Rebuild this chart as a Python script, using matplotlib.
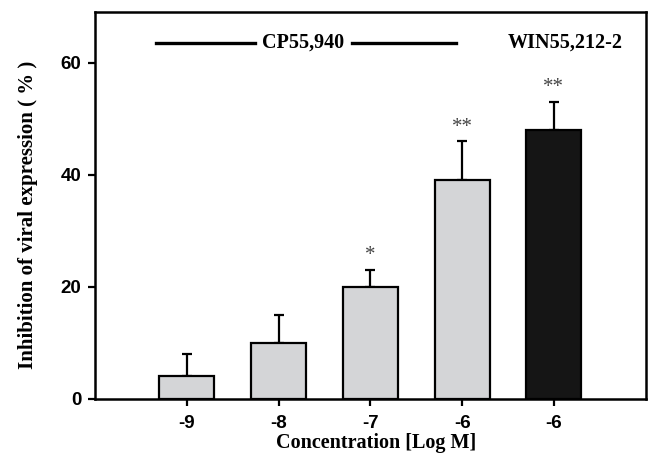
import numpy as np
import matplotlib.pyplot as plt

# valeurs
tick_labels = ["-9", "-8", "-7", "-6", "-6"]
inhibition = [4, 10, 20, 39, 48]
sem = [4, 5, 3, 7, 5]
stars = ["", "", "*", "**", "**"]
bar_colors = ["#d4d5d7", "#d4d5d7", "#d4d5d7", "#d4d5d7", "#151515"]

x = np.arange(len(inhibition))

fig = plt.figure(figsize=(6.48, 4.61), dpi=100)
ax = fig.add_axes([0.1466, 0.1351, 0.8499, 0.8382])

ax.bar(x, inhibition, width=0.6, color=bar_colors, edgecolor="black", linewidth=1.6, zorder=2)
ax.errorbar(x, inhibition, yerr=[np.zeros(len(sem)), sem], fmt="none", ecolor="black",
            elinewidth=1.6, capsize=3.5, capthick=1.6, zorder=1)

# étoiles de significativité
for xi, yi, e, s in zip(x, inhibition, sem, stars):
    if s:
        ax.text(xi, yi + e + 0.8, s, ha="center", va="bottom", fontsize=15,
                family="Liberation Serif", color="#444444")

# légende des composés
ax.plot([-0.33, 0.74], [63.6, 63.6], color="black", lw=2.4)
ax.plot([1.80, 2.93], [63.6, 63.6], color="black", lw=2.4)
ax.text(1.27, 63.6, "CP55,940", ha="center", va="center", fontsize=14.5,
        family="Liberation Serif", weight="bold")
ax.text(4.12, 63.6, "WIN55,212-2", ha="center", va="center", fontsize=14.5,
        family="Liberation Serif", weight="bold")

ax.set_xlim(-1, 5)
ax.set_ylim(0, 69)
ax.set_xticks(x)
ax.set_xticklabels(tick_labels)
ax.set_yticks([0, 20, 40, 60])
for lab in ax.get_xticklabels() + ax.get_yticklabels():
    lab.set_family("Liberation Sans")
    lab.set_weight("bold")
    lab.set_fontsize(13.5)
ax.tick_params(direction="out", length=4.8, width=1.6)
ax.tick_params(axis="x", pad=7)
ax.tick_params(axis="y", pad=5)

for sp in ax.spines.values():
    sp.set_linewidth(1.8)

ax.set_xlabel("Concentration [Log M]", family="Liberation Serif", weight="bold",
              fontsize=14.5)
ax.xaxis.set_label_coords(0.51, -0.088)
ax.set_ylabel("Inhibition of viral expression ( % )", family="Liberation Serif",
              weight="bold", fontsize=15)
ax.yaxis.set_label_coords(-0.104, 0.477)

fig.savefig("out.png", dpi=100)
